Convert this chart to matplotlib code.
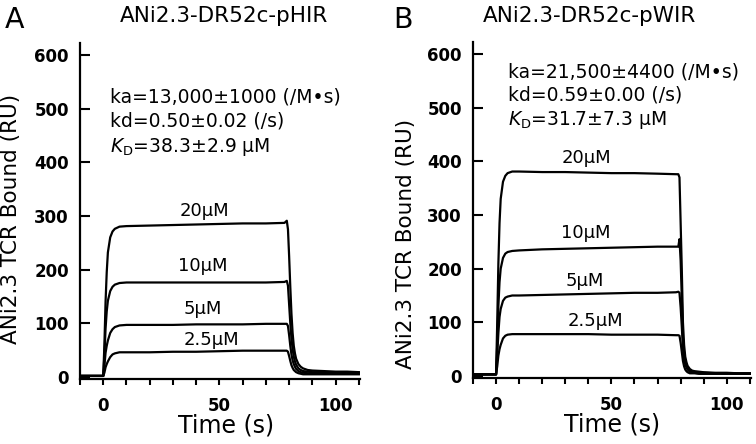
import matplotlib
matplotlib.use("Agg")
import matplotlib.pyplot as plt

plt.rcParams['font.family'] = ['DejaVu Sans']
plt.rcParams['mathtext.fontset'] = 'dejavusans'

# ---------------- data ----------------
time_s = [-10, -5, -0.5, 0, 0.5, 1, 1.5, 2, 3, 4, 5, 7, 10, 20, 30, 40, 50, 60, 70,
          78, 79, 79.5, 80, 80.5, 81, 81.5, 82, 82.5, 83, 84, 85, 86, 88, 90, 95,
          100, 105, 110]

conc_labels = ["20\u03bcM", "10\u03bcM", "5\u03bcM", "2.5\u03bcM"]

# Panel A: ANi2.3-DR52c-pHIR
a_20 = [2, 2, 2, 2, 60, 140, 195, 232, 260, 271, 276, 280, 281, 282, 283, 284, 285, 286, 286,
        287, 291, 275, 225, 168, 118, 82, 58, 44, 34, 24, 19, 16, 13, 12, 11, 10, 10, 9]
a_10 = [2, 2, 2, 2, 40, 90, 122, 142, 160, 168, 172, 175, 176, 176, 176, 176, 176, 176, 176,
        177, 179, 170, 135, 100, 72, 52, 38, 29, 23, 16, 13, 11, 10, 9, 9, 8, 8, 8]
a_5 = [2, 2, 2, 2, 20, 45, 58, 68, 82, 89, 93, 96, 97, 97, 97, 98, 98, 98, 99,
       99, 99, 95, 78, 58, 42, 31, 24, 19, 15, 11, 9, 8, 7, 7, 7, 6, 6, 6]
a_2p5 = [2, 2, 2, 2, 8, 18, 24, 29, 37, 42, 44, 46, 46, 46, 47, 47, 48, 49, 49,
         49, 49, 47, 39, 30, 22, 17, 13, 11, 9, 7, 6, 5, 5, 5, 5, 5, 5, 5]

# Panel B: ANi2.3-DR52c-pWIR
b_20 = [3, 3, 3, 3, 100, 210, 285, 330, 362, 373, 378, 381, 381, 380, 380, 379, 378, 378, 377,
        376, 376, 370, 285, 200, 100, 58, 36, 26, 19, 13, 10, 9, 8, 7, 6, 6, 5, 5]
b_10 = [3, 3, 3, 3, 60, 130, 175, 200, 220, 228, 231, 233, 234, 236, 237, 238, 239, 240, 241,
        241, 241, 255, 215, 145, 72, 42, 28, 20, 15, 10, 8, 7, 6, 6, 5, 5, 5, 5]
b_5 = [3, 3, 3, 3, 40, 80, 110, 125, 140, 146, 148, 150, 150, 151, 152, 153, 154, 155, 155,
       156, 157, 155, 128, 92, 52, 32, 22, 16, 12, 8, 7, 6, 5, 5, 5, 5, 4, 4]
b_2p5 = [3, 3, 3, 3, 18, 38, 50, 58, 70, 75, 77, 78, 78, 78, 78, 78, 77, 77, 77,
         76, 76, 75, 62, 45, 28, 18, 12, 9, 7, 5, 5, 5, 4, 4, 4, 4, 4, 4]

titles = ["ANi2.3-DR52c-pHIR", "ANi2.3-DR52c-pWIR"]
panel_letters = ["A", "B"]
kinetics_a = ["ka=13,000\u00b11000 (/M\u2022s)", "kd=0.50\u00b10.02 (/s)",
              "$\\mathit{K}_{\\mathrm{D}}$=38.3\u00b12.9 \u03bcM"]
kinetics_b = ["ka=21,500\u00b14400 (/M\u2022s)", "kd=0.59\u00b10.00 (/s)",
              "$\\mathit{K}_{\\mathrm{D}}$=31.7\u00b17.3 \u03bcM"]
y_ticks = [0, 100, 200, 300, 400, 500, 600]
x_ticks = list(range(-10, 111, 10))
x_tick_labels = {0: "0", 50: "50", 100: "100"}

# ---------------- figure ----------------
W, H = 756, 444
fig = plt.figure(figsize=(W / 100, H / 100), dpi=100)
axA = fig.add_axes([80 / W, 1 - 378.6 / H, 280 / W, 335.6 / H])
axB = fig.add_axes([473 / W, 1 - 377.6 / H, 278 / W, 335.4 / H])

panels = [
    (axA, [a_20, a_10, a_5, a_2p5], kinetics_a,
     [(2.9, 512), (2.9, 466), (2.9, 419)],
     [(43.5, 300), (42.8, 197), (42.8, 117), (46.5, 59)]),
    (axB, [b_20, b_10, b_5, b_2p5], kinetics_b,
     [(5.0, 557), (5.0, 514), (5.0, 468)],
     [(39.3, 396), (38.9, 258), (38.5, 168), (43.0, 94)]),
]

for ax, series, kin, kin_pos, lab_pos in panels:
    for s in series:
        ax.plot(time_s, s, color="black", lw=1.6, solid_joinstyle="round")
    ax.set_xlim(-10, 110.5)
    ax.set_ylim(-3, 622)
    for side in ("top", "right"):
        ax.spines[side].set_visible(False)
    for side in ("left", "bottom"):
        ax.spines[side].set_linewidth(1.6)
    ax.set_yticks(y_ticks)
    ax.set_yticklabels([str(v) for v in y_ticks], fontweight="bold", fontsize=12)
    ax.set_xticks(x_ticks)
    ax.set_xticklabels([x_tick_labels.get(v, "") for v in x_ticks],
                       fontweight="bold", fontsize=12)
    ax.tick_params(axis="y", direction="in", length=7, width=1.5, pad=8)
    ax.tick_params(axis="x", direction="out", length=4, width=1.5, pad=9)
    ax.set_xlabel("Time (s)", fontsize=17, labelpad=3)
    ax.set_ylabel("ANi2.3 TCR Bound (RU)", fontsize=15.5)
    for txt, (x, y) in zip(kin, kin_pos):
        ax.text(x, y, txt, fontsize=13.5, ha="left", va="baseline")
    for txt, (x, y) in zip(conc_labels, lab_pos):
        ax.text(x, y, txt, fontsize=13, ha="center", va="baseline")

axA.yaxis.set_label_coords(-0.211, 0.475)
axB.yaxis.set_label_coords(-0.205, 0.40)
axA.xaxis.set_label_coords(0.52, -0.105)
axB.xaxis.set_label_coords(0.50, -0.105)

fig.text(224.5 / W, 1 - 16 / H, titles[0], fontsize=15.5, ha="center", va="center")
fig.text(590 / W, 1 - 16 / H, titles[1], fontsize=15.5, ha="center", va="center")
fig.text(5 / W, 1 - 28 / H, panel_letters[0], fontsize=20.5, ha="left", va="baseline")
fig.text(393 / W, 1 - 28 / H, panel_letters[1], fontsize=20.5, ha="left", va="baseline")

fig.savefig("out.png", dpi=100, facecolor="white")
